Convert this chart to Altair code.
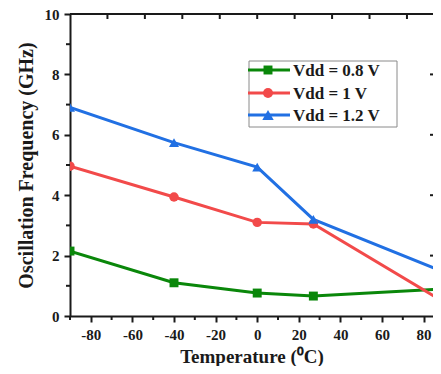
import altair as alt
import pandas as pd

temps = [-90, -40, 0, 27, 90]
vdd_08 = [2.15, 1.10, 0.76, 0.66, 0.90]
vdd_10 = [4.96, 3.94, 3.10, 3.05, 0.45]
vdd_12 = [6.91, 5.74, 4.93, 3.20, 1.45]
series = ["Vdd = 0.8 V", "Vdd = 1 V", "Vdd = 1.2 V"]
colors = ["#0a870a", "#f24a4a", "#2170e3"]
shapes = ["square", "circle", "triangle-up"]
x_major = [-80, -60, -40, -20, 0, 20, 40, 60, 80]
x_minor = [-90, -70, -50, -30, -10, 10, 30, 50, 70]
y_major = [0, 2, 4, 6, 8, 10]
y_minor = [1, 3, 5, 7, 9]
top_ticks = [-72, -54, -36, -18, 0, 18, 36, 54, 72]
right_ticks = [2, 4, 6, 8]

rows = []
for s, vals in zip(series, [vdd_08, vdd_10, vdd_12]):
    for t, v in zip(temps, vals):
        rows.append({"series": s, "temp": t, "freq": v})
df = pd.DataFrame(rows)

W, H = 363, 302
FONT = "Liberation Serif"
INK = "#1a1a1a"

x_scale = alt.Scale(domain=[-90, -90 + W / 2.08], nice=False, zero=False)
y_scale = alt.Scale(domain=[0, 10], nice=False)
color_scale = alt.Scale(domain=series, range=colors)
shape_scale = alt.Scale(domain=series, range=shapes)
size_scale = alt.Scale(domain=series, range=[80, 100, 130])

x_axis = alt.Axis(
    values=x_major, labelExpr="'' + datum.value",
    tickSize=6, tickWidth=2, tickColor=INK, domainWidth=2, domainColor=INK,
    labelFont=FONT, labelFontSize=15, labelFontWeight="bold", labelColor=INK,
    labelPadding=5, labelOverlap=False, labelFlush=False,
    title="Temperature (⁰C)", titleFont=FONT, titleFontSize=19,
    titleFontWeight="bold", titleColor=INK, titlePadding=5, grid=False,
)
y_axis = alt.Axis(
    values=y_major, labelExpr="'' + datum.value",
    tickSize=6, tickWidth=2, tickColor=INK, domainWidth=2, domainColor=INK,
    labelFont=FONT, labelFontSize=15, labelFontWeight="bold", labelColor=INK,
    labelPadding=5, labelOverlap=False, labelFlush=False,
    title="Oscillation Frequency (GHz)", titleFont=FONT, titleFontSize=20,
    titleFontWeight="bold", titleColor=INK, titlePadding=8, grid=False,
)

base = alt.Chart(df)
lines = base.mark_line(strokeWidth=3, clip=True).encode(
    x=alt.X("temp:Q", scale=x_scale, axis=x_axis),
    y=alt.Y("freq:Q", scale=y_scale, axis=y_axis),
    color=alt.Color("series:N", scale=color_scale, legend=None),
)
points = base.mark_point(filled=True, opacity=1, clip=True).encode(
    x=alt.X("temp:Q", scale=x_scale),
    y=alt.Y("freq:Q", scale=y_scale),
    color=alt.Color("series:N", scale=color_scale, legend=None),
    shape=alt.Shape("series:N", scale=shape_scale, legend=None),
    size=alt.Size("series:N", scale=size_scale, legend=None),
)

one = pd.DataFrame({"a": [0]})
top_frame = alt.Chart(one).mark_rule(strokeWidth=2, color=INK).encode(
    x=alt.value(0), x2=alt.value(W), y=alt.value(0)
)
top_tk = alt.Chart(pd.DataFrame({"temp": top_ticks})).mark_rule(strokeWidth=2, color=INK).encode(
    x=alt.X("temp:Q", scale=x_scale), y=alt.value(0), y2=alt.value(5)
)
x_minor_tk = alt.Chart(pd.DataFrame({"temp": x_minor})).mark_rule(strokeWidth=2, color=INK).encode(
    x=alt.X("temp:Q", scale=x_scale), y=alt.value(H), y2=alt.value(H + 4)
)
right_tk = alt.Chart(pd.DataFrame({"freq": right_ticks})).mark_rule(strokeWidth=2, color=INK).encode(
    y=alt.Y("freq:Q", scale=y_scale), x=alt.value(W - 3), x2=alt.value(W)
)
y_minor_tk = alt.Chart(pd.DataFrame({"freq": y_minor})).mark_rule(strokeWidth=2, color=INK).encode(
    y=alt.Y("freq:Q", scale=y_scale), x=alt.value(-4), x2=alt.value(0)
)

# manual legend
legend_layers = [
    alt.Chart(one).mark_rect(fill="white", stroke="#8a8a8a", strokeWidth=1).encode(
        x=alt.value(179), x2=alt.value(327), y=alt.value(47), y2=alt.value(113)
    )
]
row_y = [56, 79, 101]
sizes = [80, 100, 130]
for s, c, sh, ry, sz in zip(series, colors, shapes, row_y, sizes):
    legend_layers.append(
        alt.Chart(one).mark_rule(strokeWidth=3, color=c).encode(
            x=alt.value(178), x2=alt.value(220), y=alt.value(ry)
        )
    )
    legend_layers.append(
        alt.Chart(one).mark_point(filled=True, opacity=1, color=c, shape=sh, size=sz).encode(
            x=alt.value(198), y=alt.value(ry)
        )
    )
    legend_layers.append(
        alt.Chart(one).mark_text(
            text=s, font=FONT, fontSize=17, fontWeight="bold", color=INK,
            align="left", baseline="middle",
        ).encode(x=alt.value(223), y=alt.value(ry + 1))
    )

chart = alt.layer(
    lines, points, top_frame, top_tk, x_minor_tk, right_tk, y_minor_tk, *legend_layers
).properties(
    width=W, height=H,
    autosize=alt.AutoSizeParams(type="none"),
    padding={"left": 62, "top": 6, "right": 0, "bottom": 50},
    background="white",
).configure_view(stroke=None)

chart.save("out.html", embed_options={"renderer": "svg", "actions": False})
